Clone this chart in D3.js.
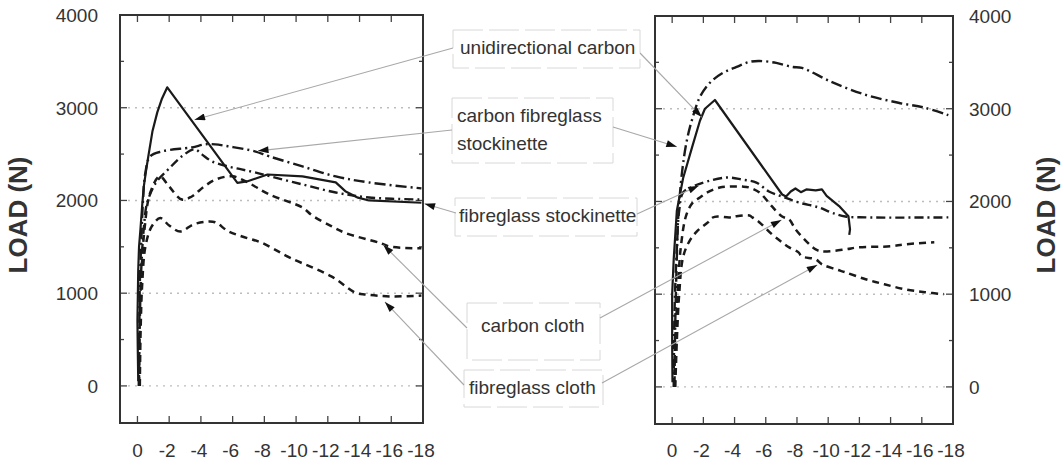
<!DOCTYPE html>
<html>
<head>
<meta charset="utf-8">
<script src="https://cdn.jsdelivr.net/npm/d3@7"></script>
<style>
  body { margin: 0; background: #fff; }
  svg { display: block; font-family: Arial, "Liberation Sans", sans-serif; }
  .tick-label { font-size: 19px; fill: #333; }
  .note { font-size: 19px; fill: #333; }
  .axis-title { font-size: 26px; font-weight: bold; fill: #333; }
</style>
</head>
<body>
<div id="chart"></div>
<script>
// tick values
var loadTicks = [0, 1000, 2000, 3000, 4000];
var dispTicks = [0, -2, -4, -6, -8, -10, -12, -14, -16, -18];

// left panel curves [displacement, load N]
var leftUnidirectional = [[-0.05,50],[-0.02,400],[0,700],[-0.05,1250],[-0.1,1500],[-0.19,1690],[-0.3,1950],[-0.4,2150],[-0.55,2330],[-0.69,2480],[-0.95,2750],[-1.25,2950],[-1.55,3100],[-1.88,3220],[-6.3,2190],[-6.9,2205],[-8.2,2280],[-10.4,2260],[-12.5,2195],[-13.1,2100],[-13.9,2030],[-14.6,2000],[-17.9,1975]];
var leftCarbonFibreglass = [[-0.1,0],[-0.12,600],[-0.15,1100],[-0.25,1600],[-0.35,2000],[-0.5,2300],[-0.8,2476],[-1.56,2530],[-3.44,2573],[-4.25,2605],[-4.9,2605],[-5.7,2584],[-7.4,2530],[-8.3,2476],[-10.4,2367],[-12.5,2259],[-14.6,2194],[-17.9,2130]];
var leftFibreglassStock = [[-0.1,0],[-0.15,700],[-0.25,1300],[-0.4,1700],[-0.62,1980],[-1.2,2200],[-1.94,2335],[-2.8,2476],[-3.6,2551],[-4.06,2497],[-4.7,2421],[-5.7,2367],[-6.56,2335],[-7.4,2303],[-8.4,2259],[-10.4,2173],[-12.5,2086],[-14.6,2032],[-17.9,2010]];
var leftCarbonCloth = [[-0.1,0],[-0.15,600],[-0.25,1200],[-0.45,1700],[-0.8,2080],[-1.4,2260],[-2.0,2150],[-2.8,2010],[-3.4,2040],[-4.2,2150],[-5.0,2230],[-6.0,2260],[-7.0,2190],[-8.3,2065],[-10.4,1924],[-11.0,1840],[-12.25,1720],[-13.1,1650],[-15.2,1546],[-16.0,1500],[-17.9,1485]];
var leftFibreglassCloth = [[-0.15,0],[-0.2,600],[-0.3,1100],[-0.5,1500],[-0.9,1720],[-1.44,1810],[-2.0,1730],[-2.7,1665],[-3.5,1740],[-4.25,1770],[-4.9,1765],[-5.7,1670],[-6.6,1611],[-7.8,1546],[-9.6,1384],[-12.25,1178],[-13.75,1005],[-14.4,985],[-16.0,965],[-17.9,975]];

// right panel curves
var rightUnidirectional = [[-0.02,50],[0,500],[0,1000],[-0.1,1380],[-0.3,1900],[-0.7,2250],[-1.27,2580],[-1.78,2870],[-2.1,3000],[-2.74,3094],[-7.05,2075],[-7.3,2053],[-7.6,2107],[-7.9,2140],[-8.25,2100],[-8.6,2130],[-9.2,2120],[-9.6,2130],[-9.9,2060],[-10.7,1950],[-11.3,1840],[-11.4,1700],[-11.35,1640]];
var rightCarbonFibreglass = [[-0.15,0],[-0.2,700],[-0.3,1400],[-0.38,1806],[-0.63,2311],[-0.95,2666],[-1.33,2913],[-1.78,3128],[-2.41,3279],[-3.24,3386],[-4.13,3451],[-4.95,3505],[-5.59,3515],[-6.67,3494],[-7.68,3451],[-8.32,3440],[-10.2,3290],[-12.4,3150],[-14.5,3064],[-16.2,3010],[-17.7,2930]];
var rightFibreglassStock = [[-0.1,0],[-0.15,800],[-0.3,1500],[-0.45,1900],[-0.7,2096],[-1.33,2161],[-2.22,2215],[-3.49,2258],[-4.5,2236],[-5.4,2204],[-6.2,2107],[-7.05,2053],[-8.1,1989],[-9.4,1935],[-10.2,1881],[-11.1,1838],[-12.4,1828],[-17.7,1828]];
var rightCarbonCloth = [[-0.15,0],[-0.2,500],[-0.35,1000],[-0.55,1500],[-0.9,1850],[-1.33,1990],[-1.78,2043],[-2.22,2096],[-3.05,2150],[-3.7,2160],[-4.5,2160],[-4.95,2150],[-5.6,2096],[-6.4,1946],[-7.05,1838],[-7.5,1806],[-7.9,1700],[-8.6,1570],[-9.2,1483],[-9.6,1462],[-11.1,1483],[-11.9,1505],[-14.0,1516],[-14.9,1537],[-16.8,1559]];
var rightFibreglassCloth = [[-0.2,0],[-0.3,500],[-0.45,1000],[-0.7,1400],[-1.1,1570],[-1.6,1680],[-2.29,1774],[-2.6,1827],[-2.92,1838],[-3.68,1828],[-4.0,1838],[-4.95,1849],[-5.14,1828],[-5.6,1774],[-6.4,1645],[-7.05,1559],[-7.5,1505],[-8.1,1451],[-8.3,1408],[-9.2,1376],[-9.6,1322],[-10.5,1268],[-11.1,1236],[-12.4,1161],[-13.6,1107],[-14.9,1053],[-16.2,1021],[-17.4,1000]];

// annotation labels and the points they point at [disp, load] (left panel, right panel)
var noteLines = [["unidirectional carbon"], ["carbon fibreglass", "stockinette"], ["fibreglass stockinette"], ["carbon cloth"], ["fibreglass cloth"]];
var noteTargetsLeft = [[-3.6,2870], [-7.6,2535], [-18.1,1965], [-15.5,1520], [-15.6,905]];
var noteTargetsRight = [[-1.9,2910], [-0.3,2590], [-1.7,2170], [-7.0,1800], [-9.3,1315]];

var width = 1064, height = 460;
var svg = d3.select("#chart").append("svg")
    .attr("width", width)
    .attr("height", height);

svg.append("defs").append("marker")
    .attr("id", "arrow")
    .attr("viewBox", "0 0 12 8")
    .attr("refX", 12).attr("refY", 4)
    .attr("markerWidth", 14).attr("markerHeight", 7)
    .attr("markerUnits", "userSpaceOnUse")
    .attr("orient", "auto")
  .append("path")
    .attr("d", "M0,0 L12,4 L0,8 Z")
    .attr("fill", "#111");

var panels = [
  {left: 120, right: 423, top: 15, bottom: 423, side: "left",
   series: [leftUnidirectional, leftCarbonFibreglass, leftFibreglassStock, leftCarbonCloth, leftFibreglassCloth],
   targets: noteTargetsLeft},
  {left: 655, right: 953, top: 16, bottom: 424, side: "right",
   series: [rightUnidirectional, rightCarbonFibreglass, rightFibreglassStock, rightCarbonCloth, rightFibreglassCloth],
   targets: noteTargetsRight}
];

// styles per series: solid, dash-dot, dash-dot, dashed, dashed
var styles = [
  {dash: null, w: 2.2, curve: d3.curveLinear},
  {dash: "11,4,2,4", w: 2.4, curve: d3.curveCatmullRom.alpha(0.5)},
  {dash: "9,4,2,4", w: 2.4, curve: d3.curveCatmullRom.alpha(0.5)},
  {dash: "7,5", w: 2.5, curve: d3.curveCatmullRom.alpha(0.5)},
  {dash: "7,5", w: 2.5, curve: d3.curveCatmullRom.alpha(0.5)}
];

var fmt = function(d) { return d === 0 ? "0" : "-" + Math.abs(d); };

panels.forEach(function(p) {
  var x = d3.scaleLinear().domain([1.1, -18]).range([p.left, p.right]);
  var y = d3.scaleLinear().domain([-400, 4000]).range([p.bottom, p.top]);
  p.x = x; p.y = y;
  var g = svg.append("g");

  // dotted grid
  g.selectAll(".grid").data([0, 1000, 2000, 3000]).enter().append("line")
    .attr("x1", p.left + 8).attr("x2", p.right - 4)
    .attr("y1", function(d) { return y(d); })
    .attr("y2", function(d) { return y(d); })
    .attr("stroke", "#bdbdbd")
    .attr("stroke-width", 1.4)
    .attr("stroke-dasharray", "2,5");

  // inward ticks on y
  var yt = d3.range(0, 4001, 500);
  [p.left, p.right].forEach(function(fx, i) {
    var dir = i === 0 ? 1 : -1;
    g.selectAll(null).data(yt).enter().append("line")
      .attr("x1", fx).attr("x2", function(d) { return fx + dir * (d % 1000 === 0 ? 7 : 4); })
      .attr("y1", function(d) { return y(d); })
      .attr("y2", function(d) { return y(d); })
      .attr("stroke", "#444").attr("stroke-width", 1.3);
  });

  // inward ticks on x, top and bottom
  var xt = dispTicks.slice(0, 9);
  [p.top, p.bottom].forEach(function(fy, i) {
    var dir = i === 0 ? 1 : -1;
    g.selectAll(null).data(xt).enter().append("line")
      .attr("x1", function(d) { return x(d); })
      .attr("x2", function(d) { return x(d); })
      .attr("y1", fy).attr("y2", fy + dir * 7)
      .attr("stroke", "#444").attr("stroke-width", 1.3);
  });

  // frame
  g.append("rect")
    .attr("x", p.left).attr("y", p.top)
    .attr("width", p.right - p.left).attr("height", p.bottom - p.top)
    .attr("fill", "none").attr("stroke", "#333").attr("stroke-width", 2);

  // x tick labels
  g.selectAll(".xl").data(dispTicks).enter().append("text")
    .attr("class", "tick-label")
    .attr("x", function(d) { return x(d) + (d === 0 ? 0 : -2); })
    .attr("y", 457)
    .attr("text-anchor", "middle")
    .text(fmt);

  // y tick labels
  g.selectAll(".yl").data(loadTicks).enter().append("text")
    .attr("class", "tick-label")
    .attr("x", p.side === "left" ? p.left - 22 : p.right + 16)
    .attr("y", function(d) { return y(d) + 7; })
    .attr("text-anchor", p.side === "left" ? "end" : "start")
    .text(function(d) { return d; });

  // axis title
  var tx = p.side === "left" ? 27 : 1055;
  g.append("text")
    .attr("class", "axis-title")
    .attr("transform", "translate(" + tx + ",215) rotate(-90)")
    .attr("text-anchor", "middle")
    .text("LOAD (N)");

  // curves
  p.series.forEach(function(s, i) {
    var line = d3.line()
      .x(function(d) { return x(d[0]); })
      .y(function(d) { return y(d[1]); })
      .curve(styles[i].curve);
    g.append("path")
      .datum(s)
      .attr("fill", "none")
      .attr("stroke", "#1a1a1a")
      .attr("stroke-width", styles[i].w)
      .attr("stroke-linejoin", "round")
      .attr("stroke-dasharray", styles[i].dash)
      .attr("d", line);
  });
});

// annotation boxes
var boxes = [
  {x: 453, y: 30, w: 187, h: 38, lx: 460, ly: 54, startL: [453, 48], startR: [640, 53]},
  {x: 452, y: 98, w: 161, h: 65, lx: 457, ly: 122, startL: [452, 130], startR: [613, 127]},
  {x: 455, y: 198, w: 182, h: 38, lx: 459, ly: 222, startL: [456, 213], startR: [637, 214]},
  {x: 467, y: 303, w: 133, h: 57, lx: 481, ly: 332, startL: [467, 328], startR: [600, 318]},
  {x: 464, y: 370, w: 139, h: 37, lx: 469, ly: 394, startL: [464, 385], startR: [602, 383]}
];

var notes = svg.append("g");
boxes.forEach(function(b, i) {
  notes.append("rect")
    .attr("x", b.x).attr("y", b.y).attr("width", b.w).attr("height", b.h)
    .attr("fill", "none").attr("stroke", "#d8d8d8").attr("stroke-width", 1)
    .attr("stroke-dasharray", "30,6");
  noteLines[i].forEach(function(t, k) {
    notes.append("text")
      .attr("class", "note")
      .attr("x", b.lx).attr("y", b.ly + k * 28)
      .text(t);
  });
  var tl = noteTargetsLeft[i], tr = noteTargetsRight[i];
  notes.append("line")
    .attr("x1", b.startL[0]).attr("y1", b.startL[1])
    .attr("x2", panels[0].x(tl[0])).attr("y2", panels[0].y(tl[1]))
    .attr("stroke", "#a8a8a8").attr("stroke-width", 1.1)
    .attr("marker-end", "url(#arrow)");
  notes.append("line")
    .attr("x1", b.startR[0]).attr("y1", b.startR[1])
    .attr("x2", panels[1].x(tr[0])).attr("y2", panels[1].y(tr[1]))
    .attr("stroke", "#a8a8a8").attr("stroke-width", 1.1)
    .attr("marker-end", "url(#arrow)");
});
</script>
</body>
</html>
